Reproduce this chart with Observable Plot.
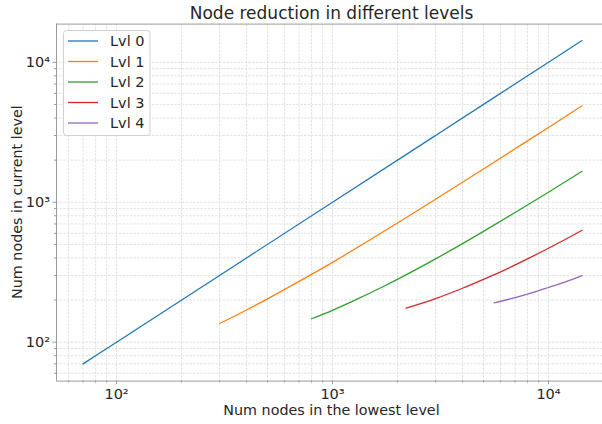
<!DOCTYPE html>
<html>
<head>
<meta charset="utf-8">
<script src="https://cdn.jsdelivr.net/npm/d3@7"></script>
<script src="https://cdn.jsdelivr.net/npm/@observablehq/plot@0.6"></script>
<style>
  html, body { margin: 0; padding: 0; background: #fff; }
  svg { font-family: "DejaVu Sans", sans-serif; }
  g[aria-label="x-axis tick label"], g[aria-label="y-axis tick label"] { font-size: 14.5px; }
</style>
</head>
<body>
<div id="chart"></div>
<script>
const levels = ["Lvl 0", "Lvl 1", "Lvl 2", "Lvl 3", "Lvl 4"];
const colors = ["#1f77b4", "#ff7f0e", "#2ca02c", "#d62728", "#9467bd"];

const lvl0X = [70, 100, 300, 1000, 3000, 10000, 14300];
const lvl0Y = [70, 100, 300, 1000, 3000, 10000, 14300];
const lvl1X = [300, 400, 500, 700, 1000, 1500, 2000, 3000, 5000, 7000, 10000, 14300];
const lvl1Y = [136, 170, 204, 272, 372, 541, 711, 1050, 1730, 2410, 3425, 4885];
const lvl2X = [800, 1000, 1300, 1700, 2200, 3000, 4000, 5000, 7000, 10000, 14300];
const lvl2Y = [147, 169, 203, 248, 304, 394, 506, 619, 844, 1180, 1664];
const lvl3X = [2190, 3000, 4000, 5000, 6000, 8000, 10000, 12000, 14300];
const lvl3Y = [175, 205, 243, 281, 318, 394, 469, 544, 631];
const lvl4X = [5600, 7000, 8500, 10000, 12000, 14300];
const lvl4Y = [191, 208, 227, 246, 270, 299];

const xMajor = [100, 1000, 10000];
const yMajor = [100, 1000, 10000];
const title = "Node reduction in different levels";
const xLabel = "Num nodes in the lowest level";
const yLabel = "Num nodes in current level";

const seriesX = [lvl0X, lvl1X, lvl2X, lvl3X, lvl4X];
const seriesY = [lvl0Y, lvl1Y, lvl2Y, lvl3Y, lvl4Y];
const data = [];
seriesX.forEach((xs, i) => xs.forEach((x, j) => data.push({level: levels[i], x, y: seriesY[i][j]})));

const W = 602, H = 424;
const mL = 56, mT = 23.6, mB = 43.4;
const xDomain = [Math.pow(10, 1.722), Math.pow(10, 4.25)];
const yDomain = [Math.pow(10, 1.722), Math.pow(10, 4.273)];

const xAll = d3.scaleLog().domain(xDomain).ticks();
const yAll = d3.scaleLog().domain(yDomain).ticks();
const xMinor = xAll.filter(v => !xMajor.includes(v));
const yMinor = yAll.filter(v => !yMajor.includes(v));
const sup = {2: "²", 3: "³", 4: "⁴"};
const fmt = v => "10" + sup[Math.round(Math.log10(v))];

const grid = "#d9d9d9";
const spine = "#9a9a9a";

const chart = Plot.plot({
  width: W, height: H,
  marginLeft: mL, marginRight: 0, marginTop: mT, marginBottom: mB,
  style: {fontFamily: "DejaVu Sans, sans-serif", fontSize: "13px", color: "#262626", background: "#fff"},
  x: {type: "log", domain: xDomain},
  y: {type: "log", domain: yDomain},
  color: {domain: levels, range: colors},
  marks: [
    Plot.ruleX(xAll, {stroke: grid, strokeWidth: 0.8, strokeDasharray: "2.5,1.2"}),
    Plot.ruleY(yAll, {stroke: grid, strokeWidth: 0.8, strokeDasharray: "2.5,1.2"}),
    Plot.axisX({ticks: xMinor, tickSize: 2, stroke: spine, tickFormat: () => "", label: null}),
    Plot.axisY({ticks: yMinor, tickSize: 2, stroke: spine, tickFormat: () => "", label: null}),
    Plot.axisX({ticks: xMajor, tickSize: 3.5, tickPadding: 4, stroke: spine, tickFormat: fmt, label: null}),
    Plot.axisY({ticks: yMajor, tickSize: 3.5, tickPadding: 3, stroke: spine, tickFormat: fmt, label: null}),
    Plot.line(data, {x: "x", y: "y", z: "level", stroke: "level", strokeWidth: 1.25, curve: "monotone-x"}),
    Plot.ruleY([yDomain[0]], {stroke: spine, strokeWidth: 1}),
    Plot.ruleY([yDomain[1]], {stroke: spine, strokeWidth: 1}),
    Plot.ruleX([xDomain[0]], {stroke: spine, strokeWidth: 1})
  ]
});

const svg = d3.select(chart);
const plotCenter = (mL + 607) / 2;
svg.append("text").attr("x", plotCenter).attr("y", 19).attr("text-anchor", "middle")
  .attr("font-size", 17).attr("fill", "#262626").text(title);
svg.append("text").attr("x", plotCenter).attr("y", 415).attr("text-anchor", "middle")
  .attr("font-size", 14.3).attr("fill", "#262626").text(xLabel);
svg.append("text").attr("transform", `translate(22,${(mT + H - mB) / 2}) rotate(-90)`)
  .attr("text-anchor", "middle").attr("font-size", 14.3).attr("fill", "#262626").text(yLabel);

const lg = svg.append("g").attr("text-anchor", "start");
lg.append("rect").attr("x", 63.5).attr("y", 30.5).attr("width", 86.5).attr("height", 105)
  .attr("rx", 3).attr("fill", "#fff").attr("fill-opacity", 0.9).attr("stroke", "#d0d0d0");
levels.forEach((name, i) => {
  const yy = 41 + i * 20.5;
  lg.append("line").attr("x1", 68).attr("x2", 98).attr("y1", yy).attr("y2", yy)
    .attr("stroke", colors[i]).attr("stroke-width", 1.3);
  lg.append("text").attr("x", 110).attr("y", yy).attr("dy", "0.36em").attr("text-anchor", "start")
    .attr("font-size", 14.5).attr("fill", "#262626").text(name);
});

document.getElementById("chart").appendChild(chart);
</script>
</body>
</html>
